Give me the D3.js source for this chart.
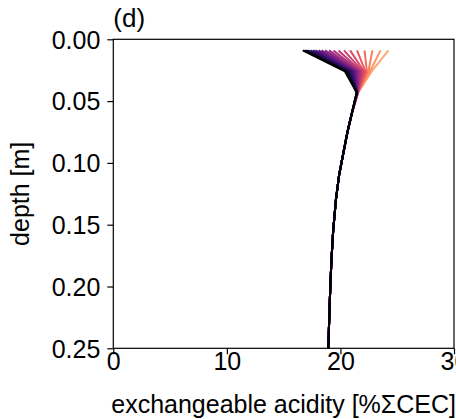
<!DOCTYPE html>
<html>
<head>
<meta charset="utf-8">
<script src="https://cdn.jsdelivr.net/npm/d3@7"></script>
<style>
  html, body { margin: 0; padding: 0; background: #fff; }
  text { font-family: "Liberation Sans", Arial, sans-serif; }
</style>
</head>
<body>
<svg id="chart" width="456" height="419"></svg>
<script>
// ---- data ----
const xTicks = [0, 10, 20, 30];
const yTicks = [0.00, 0.05, 0.10, 0.15, 0.20, 0.25];

// near-surface depths, where the profiles differ
const surfaceDepths = [0.009, 0.026, 0.043];
// value at first depth, one per profile (dark -> light)
const surfaceValues = [16.68, 16.82, 16.97, 17.14, 17.36, 17.58, 17.80, 18.07, 18.33, 18.64,
                       18.99, 19.39, 19.83, 20.31, 20.85, 21.46, 22.12, 22.82, 23.53, 24.23];
// value at second depth
const kneeValues = [20.40, 20.52, 20.64, 20.76, 20.88, 21.00, 21.12, 21.24, 21.36, 21.48,
                    21.60, 21.72, 21.84, 21.96, 22.08, 22.20, 22.33, 22.46, 22.60, 22.75];
// value at third depth
const mergeValues = [21.43, 21.44, 21.44, 21.45, 21.46, 21.46, 21.47, 21.48, 21.48, 21.49,
                     21.50, 21.51, 21.51, 21.52, 21.53, 21.54, 21.54, 21.55, 21.56, 21.57];
// shared deeper profile
const deepDepths = [0.06, 0.075, 0.09, 0.11, 0.13, 0.155, 0.18, 0.21, 0.25];
const deepValues = [21.0, 20.62, 20.3, 19.88, 19.6, 19.36, 19.2, 19.07, 18.93];

// ---- layout ----
const svg = d3.select("#chart");
const mLeft = 113.3, mTop = 39.3, mRight = 454, mBottom = 348.3;

const x = d3.scaleLinear().domain([0, 30]).range([mLeft, mRight]);
const y = d3.scaleLinear().domain([0, 0.25]).range([mTop, mBottom]);

const N = surfaceValues.length;
const profiles = surfaceValues.map((v, i) => {
  const pts = [
    [v, surfaceDepths[0]],
    [kneeValues[i], surfaceDepths[1]],
    [mergeValues[i], surfaceDepths[2]]
  ];
  deepDepths.forEach((d, j) => pts.push([deepValues[j], d]));
  return pts;
});

const color = i => d3.interpolateMagma(0.82 * i / (N - 1));

const line = d3.line().x(d => x(d[0])).y(d => y(d[1]));

// draw light first so dark ends on top
svg.append("g").selectAll("path")
  .data(profiles.map((p, i) => ({p, i})).reverse())
  .join("path")
  .attr("d", d => line(d.p))
  .attr("fill", "none")
  .attr("stroke", d => color(d.i))
  .attr("stroke-width", 2)
  .attr("stroke-linejoin", "round");

// frame
svg.append("rect")
  .attr("x", mLeft).attr("y", mTop)
  .attr("width", mRight - mLeft).attr("height", mBottom - mTop)
  .attr("fill", "none").attr("stroke", "#000").attr("stroke-width", 1.2);

const fs = 25;
// x axis
const xAxis = svg.append("g").attr("transform", `translate(0,${mBottom})`)
  .call(d3.axisBottom(x).tickValues(xTicks).tickFormat(d3.format("d")).tickSize(6).tickSizeOuter(0));
xAxis.select(".domain").remove();
xAxis.selectAll("line").attr("stroke", "#000").attr("stroke-width", 1.2);
xAxis.selectAll("text").attr("font-size", fs).attr("fill", "#000").attr("dy", "0.75em").attr("y", 3);

// y axis
const yAxis = svg.append("g").attr("transform", `translate(${mLeft},0)`)
  .call(d3.axisLeft(y).tickValues(yTicks).tickFormat(d3.format(".2f")).tickSize(6).tickSizeOuter(0));
yAxis.select(".domain").remove();
yAxis.selectAll("line").attr("stroke", "#000").attr("stroke-width", 1.2);
yAxis.selectAll("text").attr("font-size", fs).attr("fill", "#000").attr("x", -13).attr("dy", "0.35em");

// labels
svg.append("text")
  .attr("x", (mLeft + mRight) / 2).attr("y", 413)
  .attr("text-anchor", "middle").attr("font-size", fs)
  .text("exchangeable acidity [%ΣCEC]");

svg.append("text")
  .attr("transform", `translate(29,${(mTop + mBottom) / 2}) rotate(-90)`)
  .attr("text-anchor", "middle").attr("font-size", fs)
  .text("depth [m]");

svg.append("text")
  .attr("x", mLeft).attr("y", 27)
  .attr("font-size", 26)
  .text("(d)");
</script>
</body>
</html>
